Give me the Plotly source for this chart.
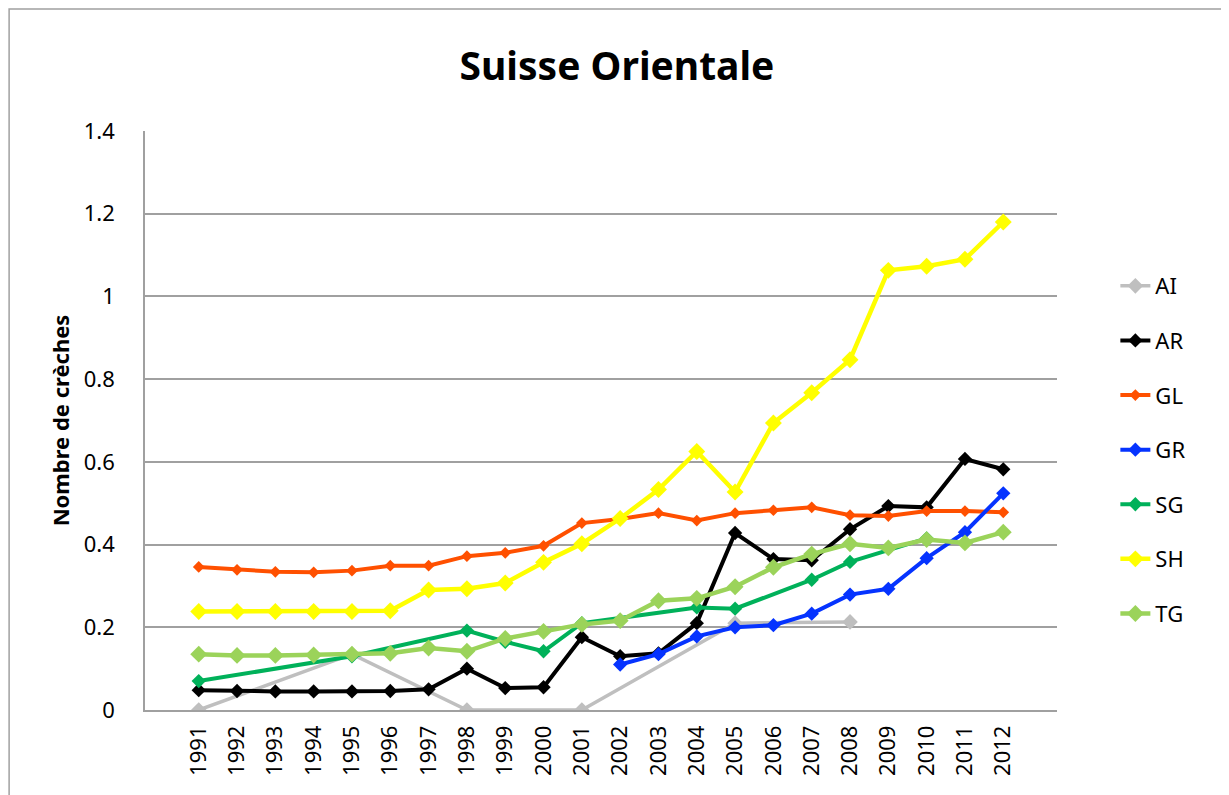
import plotly.graph_objects as go

# Années (catégories de l'axe x)
annees = [str(a) for a in range(1991, 2013)]

# Séries par canton (None = pas de donnée, les points sont reliés)
ai = [0.0, None, None, None, 0.135, None, None, 0.0, None, None, 0.0,
      None, None, None, 0.21, None, None, 0.213, None, None, None, None]
ar = [0.048, 0.046, 0.045, 0.045, 0.045, 0.046, 0.05, 0.1, 0.053, 0.055, 0.176,
      0.13, 0.137, 0.21, 0.428, 0.365, 0.362, 0.437, 0.493, 0.49, 0.607, 0.582]
gl = [0.346, 0.339, 0.334, 0.333, 0.337, 0.349, 0.349, 0.372, 0.38, 0.397, 0.452,
      0.462, 0.476, 0.458, 0.476, 0.483, 0.49, 0.471, 0.469, 0.481, 0.481, 0.478]
gr = [None, None, None, None, None, None, None, None, None, None, None,
      0.11, 0.135, 0.178, 0.2, 0.205, 0.233, 0.279, 0.293, 0.367, 0.43, 0.524]
sg = [0.07, None, None, None, 0.13, None, None, 0.192, 0.165, 0.142, 0.21,
      None, None, 0.248, 0.245, None, 0.315, 0.358, None, 0.415, None, None]
sh = [0.238, 0.238, 0.238, 0.238, 0.238, 0.24, 0.29, 0.293, 0.307, 0.357, 0.402,
      0.463, 0.533, 0.625, 0.527, 0.694, 0.767, 0.847, 1.063, 1.073, 1.09, 1.18]
tg = [0.135, 0.132, 0.132, 0.133, 0.135, 0.137, 0.15, 0.142, 0.173, 0.19, 0.207,
      0.216, 0.264, 0.27, 0.298, 0.345, 0.377, 0.402, 0.392, 0.412, 0.404, 0.43]

series = [
    ("AI", ai, "#BFBFBF", 3.5, 12),
    ("AR", ar, "#000000", 4, 11),
    ("GL", gl, "#FF5000", 4, 9),
    ("GR", gr, "#0533FF", 4, 11),
    ("SG", sg, "#00B15A", 4, 11),
    ("SH", sh, "#FFFF00", 4.5, 13),
    ("TG", tg, "#9BD35A", 4.5, 13),
]

police = "Noto Sans"

fig = go.Figure()
for nom, valeurs, couleur, epaisseur, taille in series:
    fig.add_trace(go.Scatter(
        x=annees, y=valeurs, name=nom, legendgroup=nom,
        mode="lines+markers", connectgaps=True,
        line=dict(color=couleur, width=epaisseur),
        marker=dict(symbol="diamond", size=taille, color=couleur),
    ))

# cadre du graphique
fig.add_shape(type="rect", xref="paper", yref="paper",
              x0=-0.149, x1=1.193, y0=-0.3, y1=1.2107,
              line=dict(color="#A0A0A0", width=1.5), layer="below")

fig.update_layout(
    width=1229, height=795,
    margin=dict(l=137, r=180, t=123, b=93),
    paper_bgcolor="white", plot_bgcolor="white",
    font=dict(family=police, color="#000000", size=22),
    title=dict(text="<b>Suisse Orientale</b>", x=0.4955, xref="container",
               y=1 - 58 / 795, yref="container", yanchor="middle",
               font=dict(size=39, family=police)),
    xaxis=dict(type="category", tickangle=-90, showgrid=False,
               showline=True, linecolor="#A0A0A0", linewidth=1.5,
               ticks="", ticklabelstandoff=5, tickfont=dict(size=22)),
    yaxis=dict(range=[0, 1.4], dtick=0.2, showgrid=True, gridcolor="#A0A0A0",
               gridwidth=1.5, showline=True, linecolor="#A0A0A0", linewidth=1.5,
               zeroline=False, ticks="", ticklabelstandoff=24,
               tickfont=dict(size=22),
               title=dict(text="<b>Nombre de crèches</b>", standoff=8,
                          font=dict(size=22))),
    legend=dict(x=1.064, xanchor="left", y=0.449, yanchor="middle",
                tracegroupgap=23, font=dict(size=22)),
    showlegend=True,
)

fig.write_html("out.html")
